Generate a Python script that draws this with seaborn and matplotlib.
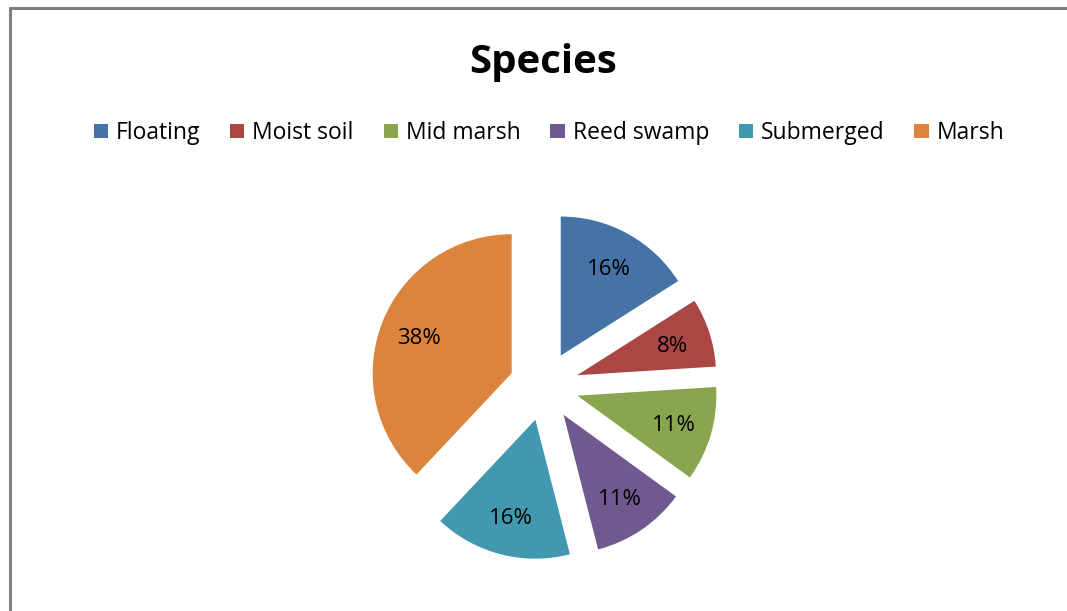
import matplotlib
matplotlib.use("Agg")
import matplotlib.pyplot as plt
import seaborn as sns
from matplotlib.patches import Patch
from matplotlib.lines import Line2D

sns.set_theme(style="white")
plt.rcParams['font.family'] = ['Open Sans', 'DejaVu Sans']

categories = ["Floating", "Moist soil", "Mid marsh", "Reed swamp", "Submerged", "Marsh"]
values = [16, 8, 11, 11, 16, 38]
colors = ["#4572A7", "#AA4643", "#89A54E", "#71588F", "#4198AF", "#DB843D"]
title = "Species"

W, H = 1067, 611
fig = plt.figure(figsize=(W / 100, H / 100), dpi=100)
fig.patch.set_facecolor("white")

# border lines (top and left)
fig.add_artist(Line2D([9.5 / W, 1], [1 - 8 / H, 1 - 8 / H], color="#808080", lw=2.2))
fig.add_artist(Line2D([9.5 / W, 9.5 / W], [0, 1 - 8 / H], color="#808080", lw=2.2))

cx, cy, r = 544, 386, 139
lim = 1.6
half = lim * r
ax = fig.add_axes([(cx - half) / W, (H - cy - half) / H, 2 * half / W, 2 * half / H])
ax.set_xlim(-lim, lim)
ax.set_ylim(-lim, lim)
ax.set_aspect("equal")
ax.axis("off")

wedges, texts, autotexts = ax.pie(
    values,
    colors=colors,
    startangle=90,
    counterclock=False,
    explode=[0.25] * len(values),
    autopct=lambda p: f"{p:.0f}%",
    pctdistance=0.72,
    radius=1,
    textprops=dict(fontsize=16, color="black"),
    wedgeprops=dict(linewidth=0),
)
for t in autotexts:
    x, y = t.get_position()
    t.set_position((x, y - 0.015))
ax.set_xlim(-lim, lim)
ax.set_ylim(-lim, lim)

fig.text(543 / W, 1 - 63 / H, title, ha="center", va="center",
         fontsize=29, fontweight="bold", color="black")

handles = [Patch(facecolor=c, edgecolor="none") for c in colors]
fig.legend(handles, categories, loc="center", bbox_to_anchor=(549 / W, 1 - 133 / H),
           ncol=6, frameon=False, fontsize=16.5, labelcolor="black",
           handlelength=0.62, handleheight=0.62,
           handletextpad=0.35, columnspacing=1.3)

fig.savefig("out.png", dpi=100, facecolor="white")
